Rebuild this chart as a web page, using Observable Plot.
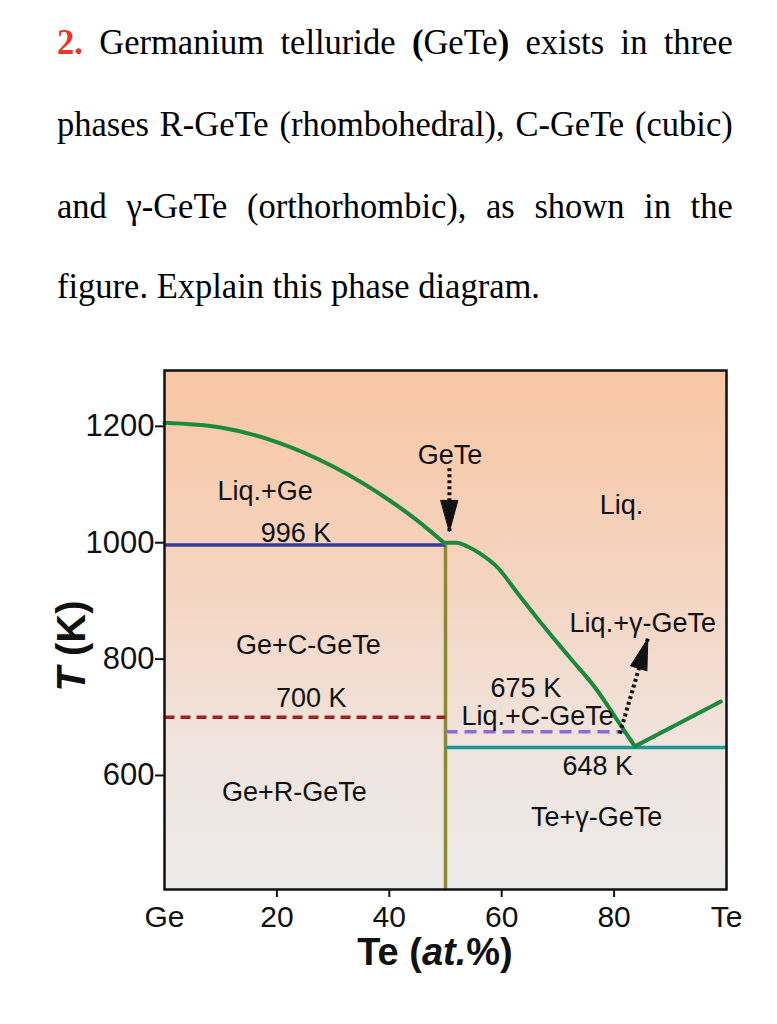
<!DOCTYPE html>
<html><head><meta charset="utf-8">
<script src="https://cdn.jsdelivr.net/npm/d3@7"></script>
<script src="https://cdn.jsdelivr.net/npm/@observablehq/plot@0.6"></script>
<style>
body{margin:0;background:#fff;width:777px;height:1024px;position:relative;overflow:hidden}
.q{position:absolute;left:57px;width:705px;font-family:"Liberation Serif","Times New Roman",serif;font-size:36px;line-height:40px;color:#000;transform:scaleX(0.9585);transform-origin:0 0}
.j{text-align:justify;text-align-last:justify}
.num{color:#e5392a;font-weight:bold}
#chart{position:absolute;left:0;top:340px}
</style></head><body>
<div class="q j" style="top:22px"><span class="num">2.</span> Germanium telluride <b>(</b>GeTe<b>)</b> exists in three</div>
<div class="q j" style="top:104px">phases R-GeTe (rhombohedral), C-GeTe (cubic)</div>
<div class="q j" style="top:186px">and γ-GeTe (orthorhombic), as shown in the</div>
<div class="q" style="top:266px">figure. Explain this phase diagram.</div>
<div id="chart"></div>
<script>
// ---- data ----
// liquidus, Ge side (Te at.%, T in K)
const liqGeX = [0, 10, 20, 30, 40, 45, 49.6];
const liqGeT = [1206, 1198, 1173, 1131, 1073, 1038, 1001];
// liquidus, GeTe -> eutectic
const liqTeX = [49.6, 52, 54, 56.5, 59.2, 63, 67, 72, 77, 80.5, 83.7];
const liqTeT = [1000, 1000, 993, 979, 958, 911, 862, 804, 746, 696, 650];
// liquidus, eutectic -> Te side
const liqTe2X = [83.7, 92, 99];
const liqTe2T = [650, 692, 727];
// invariant lines
const lineT = [996, 700, 675, 648];
const lineFrom = [0, 0, 50, 50];
const lineTo = [50, 50, 82, 100];
// GeTe compound line
const gteX = 50, gteTop = 996;
// tick values
const yTicks = [600, 800, 1000, 1200];
const xTicks = [0, 20, 40, 60, 80, 100];
const xTickLabels = ["Ge", "20", "40", "60", "80", "Te"];
// region labels
const labText = ["Liq.+Ge", "996 K", "GeTe", "Liq.", "Ge+C-GeTe", "Liq.+γ-GeTe", "700 K", "675 K", "Liq.+C-GeTe", "648 K", "Ge+R-GeTe", "Te+γ-GeTe"];
const labX = [17.9, 23.4, 50.8, 81.3, 25.6, 85.1, 26.1, 64.3, 66.4, 77.1, 23.1, 76.9];
const labT = [1088, 1016, 1150, 1064, 823, 861, 732, 750, 702, 615, 571, 528];
// arrows: tail -> tip
const arrX1 = [50.7, 81], arrT1 = [1128, 672];
const arrX2 = [50.7, 86], arrT2 = [1019.5, 835];
const arrAngle = [180, 17];

const pts = (xs, ts) => xs.map((x, i) => ({x, T: ts[i]}));
const lines = lineT.map((T, i) => ({T, a: lineFrom[i], b: lineTo[i]}));
const labels = labText.map((t, i) => ({t, x: labX[i], T: labT[i]}));
const arrows = arrX1.map((x, i) => ({x1: x, T1: arrT1[i], x2: arrX2[i], T2: arrT2[i], rot: arrAngle[i]}));

const green = "#1b8a3c";
const head = {draw(ctx, l, r) { ctx.moveTo(0, -l); ctx.lineTo(-r, 0); ctx.lineTo(r, 0); ctx.closePath(); }};

const chart = Plot.plot({
  width: 777, height: 660,
  marginLeft: 164, marginRight: 51, marginTop: 30, marginBottom: 111,
  x: {domain: [0, 100], axis: null},
  y: {domain: [404, 1296], axis: null},
  style: {fontFamily: "'Liberation Sans', Arial, sans-serif", background: "transparent", color: "#111"},
  marks: [
    Plot.frame({fill: "url(#bgGrad)", stroke: "none"}),
    Plot.ruleX([gteX], {y1: gteTop, y2: 404, stroke: "#8c8a2e", strokeWidth: 3.5}),
    Plot.link([lines[0]], {x1: "a", x2: "b", y1: "T", y2: "T", stroke: "#3a3a9c", strokeWidth: 3.5}),
    Plot.link([lines[1]], {x1: "a", x2: "b", y1: "T", y2: "T", stroke: "#a31f1f", strokeWidth: 3.5, strokeDasharray: "10 6"}),
    Plot.link([lines[2]], {x1: "a", x2: "b", y1: "T", y2: "T", stroke: "#8a6fd0", strokeWidth: 3.5, strokeDasharray: "12 7"}),
    Plot.link([lines[3]], {x1: "a", x2: "b", y1: "T", y2: "T", stroke: "#1f9696", strokeWidth: 3.5}),
    Plot.line(pts(liqGeX, liqGeT), {x: "x", y: "T", stroke: green, strokeWidth: 4, curve: "monotone-x"}),
    Plot.line(pts(liqTeX, liqTeT), {x: "x", y: "T", stroke: green, strokeWidth: 4, curve: "monotone-x"}),
    Plot.line(pts(liqTe2X, liqTe2T), {x: "x", y: "T", stroke: green, strokeWidth: 4}),
    Plot.link(arrows, {x1: "x1", y1: "T1", x2: "x2", y2: "T2", stroke: "#111", strokeWidth: 4, strokeDasharray: "3 3"}),
    Plot.vector(arrows, {x: "x2", y: "T2", rotate: "rot", length: 31, r: 8.5, anchor: "end", shape: head, fill: "#111", stroke: "#111", strokeWidth: 1}),
    Plot.text(labels, {x: "x", y: "T", text: "t", fontSize: 27, fill: "#111"}),
    Plot.axisY({ticks: yTicks, tickSize: 9, tickPadding: 1, fontSize: 31, strokeWidth: 2, stroke: "#111", fill: "#111", label: null, tickFormat: d => String(d)}),
    Plot.axisX({ticks: [20, 40, 60, 80], tickSize: 8, tickFormat: () => "", strokeWidth: 2, stroke: "#111", label: null}),
    Plot.axisX({ticks: xTicks, tickSize: 0, tickPadding: 16, fontSize: 30, fill: "#111", label: null,
      tickFormat: d => xTickLabels[xTicks.indexOf(d)]}),
    Plot.frame({stroke: "#111", strokeWidth: 2.5, fill: "none"})
  ]
});

const svg = d3.select(chart);
const grad = svg.insert("defs", ":first-child").append("linearGradient")
  .attr("id", "bgGrad").attr("x1", 0).attr("y1", 0).attr("x2", 0).attr("y2", 1);
[["0%", "#f8c6a3"], ["45%", "#f4d6c4"], ["72%", "#f0e4dd"], ["100%", "#ebebeb"]]
  .forEach(([o, c]) => grad.append("stop").attr("offset", o).attr("stop-color", c));

// axis titles
const xt = svg.append("text").attr("x", 435).attr("y", 625).attr("text-anchor", "middle")
  .attr("font-size", 38).attr("font-weight", "bold").attr("fill", "#111");
xt.append("tspan").text("Te (");
xt.append("tspan").attr("font-style", "italic").text("at.");
xt.append("tspan").text("%)");
const yt = svg.append("text").attr("transform", "translate(85,306) rotate(-90)").attr("text-anchor", "middle")
  .attr("font-size", 40).attr("font-weight", "bold").attr("fill", "#111");
yt.append("tspan").attr("font-style", "italic").text("T");
yt.append("tspan").text(" (K)");

document.getElementById("chart").appendChild(chart);
</script>
</body></html>
